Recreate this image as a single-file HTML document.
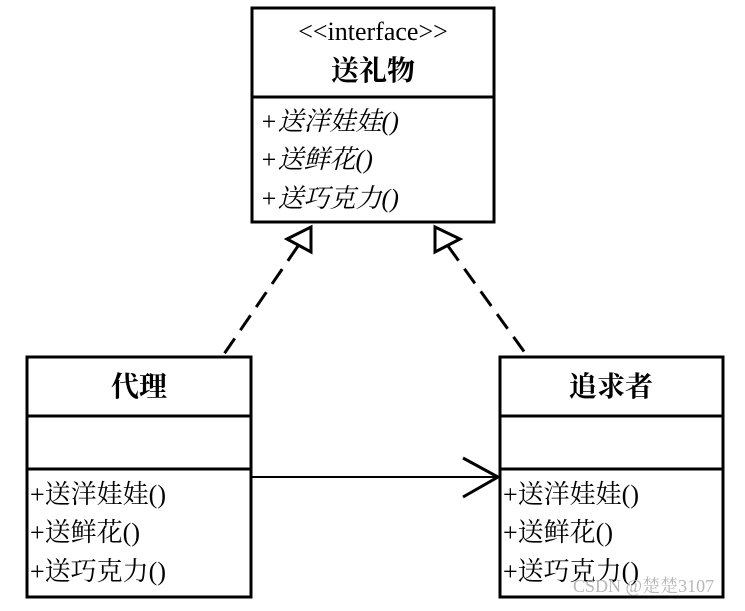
<!DOCTYPE html>
<html><head><meta charset="utf-8"><style>
html,body{margin:0;padding:0;background:#fff;}
svg text{font-family:"Liberation Serif","Noto Serif CJK SC",serif;fill:#000;}
</style></head><body>
<svg width="745" height="606" viewBox="0 0 745 606" xmlns="http://www.w3.org/2000/svg">
<g fill="none" stroke="#000" stroke-width="3">
<rect x="252" y="8" width="242" height="214"/>
<line x1="252" y1="97" x2="494" y2="97"/>
<rect x="27" y="357" width="224" height="240"/>
<line x1="27" y1="416" x2="251" y2="416"/>
<line x1="27" y1="469" x2="251" y2="469"/>
<rect x="500" y="357" width="223" height="240"/>
<line x1="500" y1="416" x2="723" y2="416"/>
<line x1="500" y1="469" x2="723" y2="469"/>
</g>
<g fill="none" stroke="#000" stroke-width="3">
<polygon points="287,239 311,227 311,252" fill="#fff"/>
<polygon points="435,227 460,239 435,252" fill="#fff"/>
<line x1="298" y1="246" x2="222" y2="357" stroke-dasharray="18,10"/>
<line x1="448" y1="246" x2="528" y2="357" stroke-dasharray="18,10"/>
</g>
<line x1="252" y1="477" x2="497" y2="477" stroke="#000" stroke-width="2"/>
<polyline points="463,458 498,477 463,497" fill="none" stroke="#000" stroke-width="3"/>
<text x="373" y="40" font-size="26" text-anchor="middle">&lt;&lt;interface&gt;&gt;</text>
<text x="373" y="80" font-size="28" font-weight="bold" text-anchor="middle">送礼物</text>
<g font-size="26" font-style="italic">
<text x="260" y="130">+送洋娃娃()</text>
<text x="260" y="168">+送鲜花()</text>
<text x="260" y="207">+送巧克力()</text>
</g>
<text x="139" y="396" font-size="28" font-weight="bold" text-anchor="middle">代理</text>
<text x="611" y="396" font-size="28" font-weight="bold" text-anchor="middle">追求者</text>
<g font-size="26">
<text x="30" y="503">+送洋娃娃()</text>
<text x="30" y="541">+送鲜花()</text>
<text x="30" y="580">+送巧克力()</text>
<text x="503" y="503">+送洋娃娃()</text>
<text x="503" y="541">+送鲜花()</text>
<text x="503" y="580">+送巧克力()</text>
</g>
<text x="573" y="592" font-size="18" fill="#bbb" style="fill:#b8b8b8">CSDN @楚楚3107</text>
</svg>
</body></html>
